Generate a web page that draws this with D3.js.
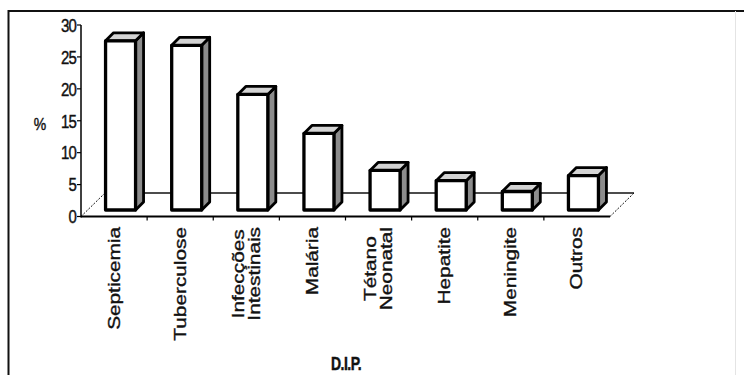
<!DOCTYPE html>
<html>
<head>
<meta charset="utf-8">
<script src="https://cdn.jsdelivr.net/npm/d3@7"></script>
<style>
  html, body { margin: 0; padding: 0; background: #fff; }
  svg { display: block; }
  text { font-family: "Liberation Sans", Arial, sans-serif; fill: #111; stroke: #111; stroke-width: 0.35px; }
</style>
</head>
<body>
<svg id="chart" width="744" height="375"></svg>
<script>
// Causes of death among DIP cases, share in %
const categories = ["Septicemia", "Tuberculose", "Infecções\nIntestinais", "Malária",
                    "Tétano\nNeonatal", "Hepatite", "Meningite", "Outros"];
const values = [26.5, 25.8, 18.1, 12.0, 6.2, 4.6, 2.9, 5.4];
const yTicks = [0, 5, 10, 15, 20, 25, 30];
const yLabel = "%";
const xTitle = "D.I.P.";

const svg = d3.select("#chart");

// plot frame
svg.append("line").attr("x1", 8).attr("x2", 744).attr("y1", 11).attr("y2", 11)
  .attr("stroke", "#111").attr("stroke-width", 2);
svg.append("line").attr("x1", 8.5).attr("x2", 8.5).attr("y1", 10).attr("y2", 375)
  .attr("stroke", "#111").attr("stroke-width", 2);
svg.append("line").attr("x1", 735.5).attr("x2", 735.5).attr("y1", 11).attr("y2", 375)
  .attr("stroke", "#e4e4e4").attr("stroke-width", 1);

// scales
const x = d3.scaleBand().domain(categories).range([81, 610]).padding(0);
const y = d3.scaleLinear().domain([0, 30]).range([216.5, 25]);

// 3D geometry: floor depth and bar placement inside it
const floorDX = 24, floorDY = 23.5;
const barShift = 6.5;   // bar front face is this far back from the front edge
const barDepth = 8;     // depth of each bar
const barW = 30;

// floor back edge
svg.append("line")
  .attr("x1", 81 + floorDX).attr("x2", 610 + floorDX)
  .attr("y1", y(0) - floorDY).attr("y2", y(0) - floorDY)
  .attr("stroke", "#111").attr("stroke-width", 1.3);

// floor side edges (dashed)
[81, 610].forEach(px => {
  svg.append("line")
    .attr("x1", px).attr("y1", y(0))
    .attr("x2", px + floorDX).attr("y2", y(0) - floorDY)
    .attr("stroke", "#111").attr("stroke-width", 1)
    .attr("stroke-dasharray", "2,1.5");
});

// bars as boxes: side face, top face, front face
const bars = svg.append("g").selectAll("g.bar")
  .data(categories.map((c, i) => ({ c, v: values[i] })))
  .join("g").attr("class", "bar");

bars.each(function(d) {
  const g = d3.select(this);
  const x0 = x(d.c) + x.bandwidth() / 2 - barW / 2 + barShift;
  const x1 = x0 + barW;
  const yb = y(0) - barShift;
  const yt = y(d.v) - barShift;
  const dd = barDepth;
  const sw = 2.8;
  // right side face
  g.append("path")
    .attr("d", `M${x1},${yt} L${x1 + dd},${yt - dd} L${x1 + dd},${yb - dd} L${x1},${yb} Z`)
    .attr("fill", "#8c8c8c").attr("stroke", "#000").attr("stroke-width", sw)
    .attr("stroke-linejoin", "round");
  // top face
  g.append("path")
    .attr("d", `M${x0},${yt} L${x0 + dd},${yt - dd} L${x1 + dd},${yt - dd} L${x1},${yt} Z`)
    .attr("fill", "#d4d4d4").attr("stroke", "#000").attr("stroke-width", sw)
    .attr("stroke-linejoin", "round");
  // front face
  g.append("rect")
    .attr("x", x0).attr("y", yt).attr("width", barW).attr("height", yb - yt)
    .attr("fill", "#fff").attr("stroke", "#000").attr("stroke-width", 3.3)
    .attr("stroke-linejoin", "round");
});

// category axis along the front edge of the floor
const xAxis = svg.append("g");
xAxis.append("line")
  .attr("x1", 81).attr("x2", 610).attr("y1", y(0)).attr("y2", y(0))
  .attr("stroke", "#000").attr("stroke-width", 2);
xAxis.selectAll("line.tick")
  .data(categories.slice(1))
  .join("line").attr("class", "tick")
  .attr("x1", d => x(d)).attr("x2", d => x(d))
  .attr("y1", y(0)).attr("y2", y(0) + 4)
  .attr("stroke", "#000").attr("stroke-width", 1.2);

// rotated category labels, multi-line labels centred line by line
const labelTop = 227;
const stretch = 1.3;
categories.forEach(c => {
  const lines = c.split("\n");
  const cx = x(c) + x.bandwidth() / 2;
  const g = svg.append("g");
  const inner = g.append("g").attr("transform", "rotate(-90)");
  const lh = 16;
  const texts = lines.map((ln, i) => inner.append("text")
    .attr("x", 0)
    .attr("y", (i - (lines.length - 1) / 2) * lh + 5.5)
    .attr("text-anchor", "middle")
    .style("font-size", "16px")
    .text(ln));
  const maxLen = d3.max(texts, t => t.node().getComputedTextLength());
  g.attr("transform", `translate(${cx},${labelTop + maxLen * stretch / 2}) scale(1,${stretch})`);
});

// value axis on the front-left edge
const yAxis = svg.append("g");
yAxis.append("line")
  .attr("x1", 81).attr("x2", 81).attr("y1", y(30)).attr("y2", y(0) + 1)
  .attr("stroke", "#000").attr("stroke-width", 1.5);
yAxis.selectAll("line.tick").data(yTicks).join("line").attr("class", "tick")
  .attr("x1", 77).attr("x2", 81).attr("y1", d => y(d)).attr("y2", d => y(d))
  .attr("stroke", "#000").attr("stroke-width", 1.2);
yAxis.selectAll("text").data(yTicks).join("text")
  .attr("transform", d => `translate(76,${y(d)}) scale(1,1.25)`)
  .attr("text-anchor", "end")
  .attr("dy", "0.36em")
  .style("font-size", "15px")
  .style("letter-spacing", "-0.8px")
  .text(d => d);

svg.append("text")
  .attr("transform", `translate(40,${y(14.5)}) scale(1,1.2)`)
  .attr("text-anchor", "middle").attr("dy", "0.36em")
  .style("font-size", "14px")
  .text(yLabel);

svg.append("text")
  .attr("transform", "translate(346,370) scale(1,1.3)")
  .attr("text-anchor", "middle")
  .style("font-size", "14px").style("font-weight", "bold")
  .style("letter-spacing", "-0.5px")
  .text(xTitle);
</script>
</body>
</html>
